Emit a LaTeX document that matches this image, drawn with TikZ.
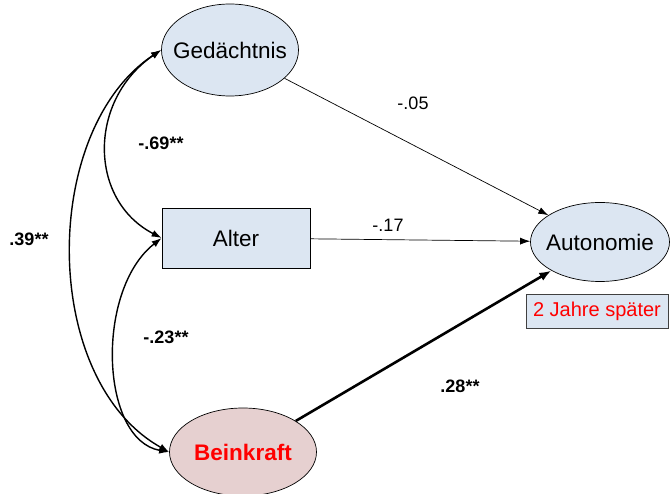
\documentclass[tikz,border=0pt]{standalone}
\usepackage{fontspec}
\setmainfont{Liberation Sans}
\usetikzlibrary{arrows.meta,shapes.geometric}
\definecolor{boxblue}{HTML}{DCE6F2}
\definecolor{boxpink}{HTML}{E6D0D0}
\definecolor{framegray}{HTML}{404040}
\newcommand{\ctrlabel}[1]{\makebox[0pt]{#1}}
\tikzset{
  var/.style={draw=black, line width=0.7pt, fill=boxblue, inner sep=0pt,
    font=\fontsize{22.5}{27}\selectfont},
  latent/.style={var, ellipse, minimum width=137pt, minimum height=92pt},
  path/.style={-{Latex[length=10pt,width=7pt]}, line width=0.7pt},
  strong/.style={-{Latex[length=12pt,width=9pt]}, line width=2.6pt},
  cov/.style={{Latex[length=10pt,width=7pt]}-{Latex[length=10pt,width=7pt]}, line width=1.4pt},
  coef/.style={font=\fontsize{18}{22}\selectfont},
  coefbold/.style={font=\bfseries\fontsize{18}{22}\selectfont}
}
\begin{document}
\begin{tikzpicture}[x=1pt,y=-1pt]
  \useasboundingbox (0,0) rectangle (670,494);
  % variables
  \node[latent] (ged) at (230,50) {\ctrlabel{Gedächtnis}};
  \node[var, minimum width=148pt, minimum height=60pt] (alt) at (236,238) {Alter};
  \node[latent, fill=boxpink, minimum width=147pt, minimum height=88pt,
        text=red, font=\bfseries\fontsize{22.5}{27}\selectfont] (bein) at (243,452) {\ctrlabel{Beinkraft}};
  \node[latent, minimum width=139pt, minimum height=79pt] (aut) at (600,242) {\ctrlabel{Autonomie}};
  \node[draw=framegray, line width=0.7pt, fill=boxblue, text=red,
        minimum width=142pt, minimum height=34pt, inner sep=0pt,
        font=\fontsize{20}{24}\selectfont] (later) at (597,311) {2 Jahre später};
  % regression paths
  \draw[path] (ged) -- (aut);
  \draw[path] (alt) -- (aut);
  \draw[strong] (bein) -- (aut);
  % correlations
  \draw[cov] (ged.west) .. controls (88,100) and (88,200) .. (alt.west);
  \draw[cov] (alt.west) .. controls (95,290) and (100,440) .. (bein.west);
  \draw[cov] (ged.west) .. controls (40,130) and (40,380) .. (bein.west);
  % coefficients
  \node[coef] (c1) at (413,103) {-.05};
  \node[coef] (c2) at (388,225) {-.17};
  \node[coefbold] (c3) at (460,386) {.28**};
  \node[coefbold] (c4) at (161,143) {-.69**};
  \node[coefbold] (c5) at (166,337) {-.23**};
  \node[coefbold] (c6) at (29,239) {.39**};
\end{tikzpicture}
\end{document}
